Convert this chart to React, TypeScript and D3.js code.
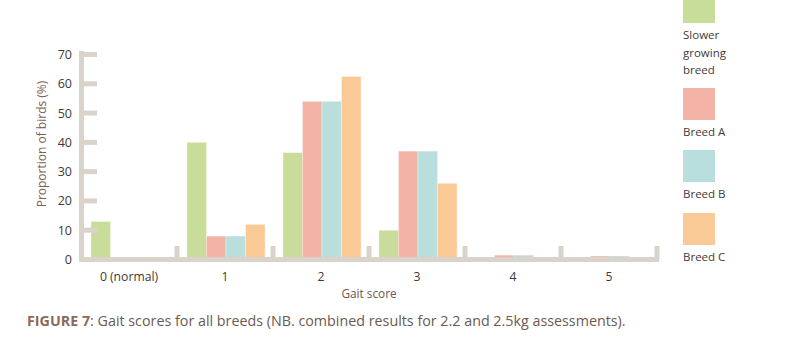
import React from "react";
import * as d3 from "d3";

const categories = ["0 (normal)", "1", "2", "3", "4", "5"];
const seriesNames = ["Slower growing breed", "Breed A", "Breed B", "Breed C"];
const slower = [13, 40, 36.5, 10, 0, 0];
const breedA = [0, 8, 54, 37, 1.5, 1.2];
const breedB = [0, 8, 54, 37, 1.5, 1.2];
const breedC = [0, 12, 62.5, 26, 0, 0];
const yTicks = [0, 10, 20, 30, 40, 50, 60, 70];
const colors = ["#c9dd9a", "#f4b3a7", "#b8dedd", "#f9ca96"];
const legendLines = [["Slower", "growing", "breed"], ["Breed A"], ["Breed B"], ["Breed C"]];

const series = [slower, breedA, breedB, breedC];
const FONT = "'Open Sans', 'Noto Sans', sans-serif";
const AXIS = "#d9d3cc";

export default function App() {
  const x = d3.scaleBand<string>().domain(categories).range([81, 657]).padding(0);
  const xi = d3.scaleBand<number>().domain([0, 1, 2, 3]).range([10, 88]).padding(0);
  const y = d3.scaleLinear().domain([0, 70]).range([259.5, 54.5]);
  const boundaries = categories.map((c) => (x(c) as number) + x.bandwidth());

  const legendTops = [-9, 88, 150, 213];

  return (
    <svg width={798} height={358} style={{ position: "absolute", left: 0, top: 0, background: "#fff" }} fontFamily={FONT}>
      {/* bars */}
      {categories.map((c, ci) => (
        <g key={c} transform={`translate(${x(c)},0)`}>
          {series.map((s, si) =>
            s[ci] > 0 ? (
              <rect
                key={si}
                x={xi(si) as number}
                width={xi.bandwidth()}
                y={y(s[ci])}
                height={y(0) - y(s[ci])}
                fill={colors[si]}
                stroke="#ffffff"
                strokeOpacity={0.5}
                strokeWidth={0.6}
              />
            ) : null
          )}
        </g>
      ))}
      {/* y axis */}
      <rect x={79} y={51} width={5} height={211} fill={AXIS} />
      {yTicks.slice(1).map((t) => (
        <rect key={t} x={79} y={y(t) - 2.5} width={18} height={5} fill={AXIS} />
      ))}
      {yTicks.map((t) => (
        <text key={t} x={72} y={y(t) + 4.5} textAnchor="end" fontSize={12.5} fill="#3f3a38">
          {t}
        </text>
      ))}
      {/* x axis */}
      <rect x={79} y={257} width={580} height={5} fill={AXIS} />
      {boundaries.map((b, i) => (
        <rect key={i} x={b - 2.5} y={246} width={5} height={14} fill={AXIS} />
      ))}
      {categories.map((c) => (
        <text key={c} x={(x(c) as number) + x.bandwidth() / 2} y={280.5} textAnchor="middle" fontSize={12.2} fill="#3f3a38">
          {c}
        </text>
      ))}
      <text x={369} y={298} textAnchor="middle" fontSize={11.8} fill="#6a574c">
        Gait score
      </text>
      <text transform="translate(46,144) rotate(-90)" textAnchor="middle" fontSize={12} fill="#7a6052">
        Proportion of birds (%)
      </text>
      {/* legend */}
      {seriesNames.map((n, i) => (
        <g key={n}>
          <rect x={683} y={legendTops[i]} width={32} height={32} fill={colors[i]} />
          {legendLines[i].map((l, li) => (
            <text key={li} x={683} y={legendTops[i] + 32 + 16 + li * 17.5} fontSize={11.5} fill="#3f3a38">
              {l}
            </text>
          ))}
        </g>
      ))}
      {/* caption */}
      <text x={27} y={326} fontSize={14.3} fill="#6b5a50">
        <tspan fontWeight="bold" fill="#8b6a58">FIGURE 7</tspan>
        <tspan>: Gait scores for all breeds (NB. combined results for 2.2 and 2.5kg assessments).</tspan>
      </text>
    </svg>
  );
}
